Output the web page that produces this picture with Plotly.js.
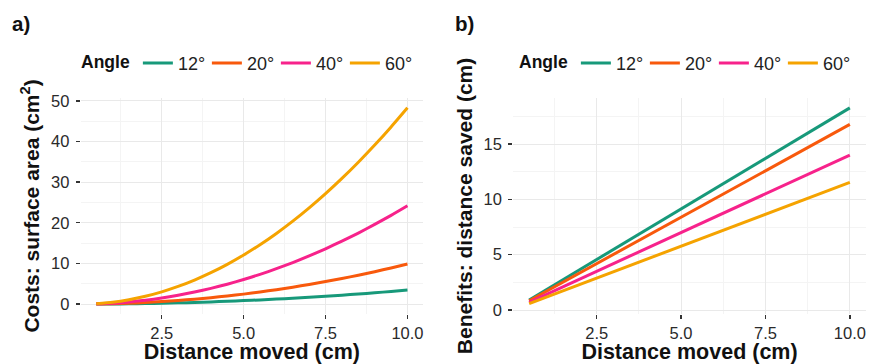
<!DOCTYPE html>
<html>
<head>
<meta charset="utf-8">
<script src="https://cdn.plot.ly/plotly-3.0.1.min.js"></script>
<style>html,body{margin:0;padding:0;background:#fff;}#chart{width:869px;height:364px;}</style>
</head>
<body>
<div id="chart"></div>
<script>
// ---- data ----
const angleLabels = ['12°', '20°', '40°', '60°'];
const angleColors = ['#17997A', '#F8590C', '#F7228B', '#F5A300'];

// panel a: costs (surface area, cm^2) vs distance moved (cm)
const distanceA = [0.5, 1, 1.5, 2, 2.5, 3, 3.5, 4, 4.5, 5, 5.5, 6, 6.5, 7, 7.5, 8, 8.5, 9, 9.5, 10];
const cost12 = [0.01, 0.03, 0.08, 0.14, 0.22, 0.31, 0.42, 0.55, 0.70, 0.86, 1.04, 1.24, 1.46, 1.69, 1.94, 2.21, 2.49, 2.79, 3.11, 3.45];
const cost20 = [0.02, 0.10, 0.22, 0.39, 0.62, 0.89, 1.21, 1.58, 2.00, 2.46, 2.98, 3.55, 4.16, 4.83, 5.54, 6.30, 7.12, 7.98, 8.89, 9.85];
const cost40 = [0.06, 0.24, 0.54, 0.97, 1.51, 2.18, 2.96, 3.87, 4.90, 6.05, 7.32, 8.71, 10.22, 11.86, 13.61, 15.49, 17.48, 19.60, 21.84, 24.20];
const cost60 = [0.12, 0.48, 1.09, 1.93, 3.02, 4.35, 5.92, 7.73, 9.78, 12.08, 14.61, 17.39, 20.41, 23.67, 27.17, 30.91, 34.90, 39.12, 43.59, 48.30];

// panel b: benefits (distance saved, cm) vs distance moved (cm)
const distanceB = [0.5, 5, 10];
const benefit12 = [0.91, 9.14, 18.27];
const benefit20 = [0.84, 8.39, 16.77];
const benefit40 = [0.70, 7.00, 14.00];
const benefit60 = [0.58, 5.77, 11.53];

const costSeries = [cost12, cost20, cost40, cost60];
const benefitSeries = [benefit12, benefit20, benefit40, benefit60];

// ---- traces ----
const traces = [];
costSeries.forEach((ys, i) => traces.push({
  type: 'scatter', mode: 'lines', x: distanceA, y: ys,
  name: angleLabels[i], line: {color: angleColors[i], width: 3, shape: 'spline', smoothing: 0.6},
  xaxis: 'x', yaxis: 'y', legend: 'legend'
}));
benefitSeries.forEach((ys, i) => traces.push({
  type: 'scatter', mode: 'lines', x: distanceB, y: ys,
  name: angleLabels[i], line: {color: angleColors[i], width: 3},
  xaxis: 'x2', yaxis: 'y2', legend: 'legend2'
}));

// ---- layout ----
const FONT = 'Liberation Sans, Arial, Helvetica, sans-serif';
const gridMajor = '#E9E9E9';
const gridMinor = '#F4F4F4';
const TICKCOL = '#2a2a2a';
function xAxis(domain, anchor) {
  return {
    domain: domain, anchor: anchor, range: [0.025, 10.475],
    tick0: 0, dtick: 2.5, tickformat: '.1f',
    ticks: 'outside', ticklen: 4, tickwidth: 1.4, tickcolor: '#333',
    tickfont: {family: FONT, size: 16.5, color: TICKCOL},
    showgrid: true, gridcolor: gridMajor, gridwidth: 1,
    minor: {tick0: 1.25, dtick: 2.5, showgrid: true, gridcolor: gridMinor, gridwidth: 1},
    zeroline: false, showline: false, automargin: false,
    title: {text: 'Distance moved (cm)', font: {family: FONT, size: 21.5, color: '#111', weight: 'bold'}, standoff: 1}
  };
}
function yAxis(domain, anchor, range, dtick, title) {
  return {
    domain: domain, anchor: anchor, range: range,
    tick0: 0, dtick: dtick,
    ticks: 'outside', ticklen: 4, tickwidth: 1.4, tickcolor: '#333',
    tickfont: {family: FONT, size: 16.5, color: TICKCOL},
    ticklabelstandoff: 3,
    showgrid: true, gridcolor: gridMajor, gridwidth: 1,
    minor: {tick0: dtick / 2, dtick: dtick, showgrid: true, gridcolor: gridMinor, gridwidth: 1},
    zeroline: false, showline: false, automargin: false,
    title: {text: title, font: {family: FONT, size: 21, color: '#111', weight: 'bold'}, standoff: 5}
  };
}
const yDom = [0.1376, 0.7308];
function legendCfg(x) {
  return {
    orientation: 'h', x: x, xanchor: 'left', y: 0.826, yanchor: 'middle',
    title: {text: '<b>Angle</b>', font: {family: FONT, size: 17.5, color: '#111'}},
    font: {family: FONT, size: 18, color: '#222'},
    entrywidth: 24, entrywidthmode: 'pixels',
    bgcolor: 'rgba(0,0,0,0)', borderwidth: 0, traceorder: 'normal'
  };
}

const layout = {
  width: 869, height: 364,
  margin: {l: 0, r: 0, t: 0, b: 0},
  paper_bgcolor: '#fff', plot_bgcolor: '#fff',
  font: {family: FONT, color: '#111'},
  showlegend: true,
  xaxis: xAxis([0.0928, 0.4868], 'y'),
  yaxis: yAxis(yDom, 'x', [-2.41, 50.7], 10, 'Costs: surface area (cm<sup>2</sup>)'),
  xaxis2: xAxis([0.5905, 0.9964], 'y2'),
  yaxis2: yAxis(yDom, 'x2', [-0.35, 19.16], 5, 'Benefits: distance saved (cm)'),
  legend: legendCfg(79 / 869),
  legend2: legendCfg(517 / 869),
  annotations: [
    {text: '<b>a)</b>', xref: 'paper', yref: 'paper', x: 10 / 869, y: 1 - 23 / 364, xanchor: 'left', yanchor: 'middle', showarrow: false, font: {family: FONT, size: 20.5, color: '#111'}},
    {text: '<b>b)</b>', xref: 'paper', yref: 'paper', x: 453 / 869, y: 1 - 23 / 364, xanchor: 'left', yanchor: 'middle', showarrow: false, font: {family: FONT, size: 20.5, color: '#111'}}
  ]
};

Plotly.newPlot('chart', traces, layout, {displayModeBar: false, staticPlot: true});
</script>
</body>
</html>
